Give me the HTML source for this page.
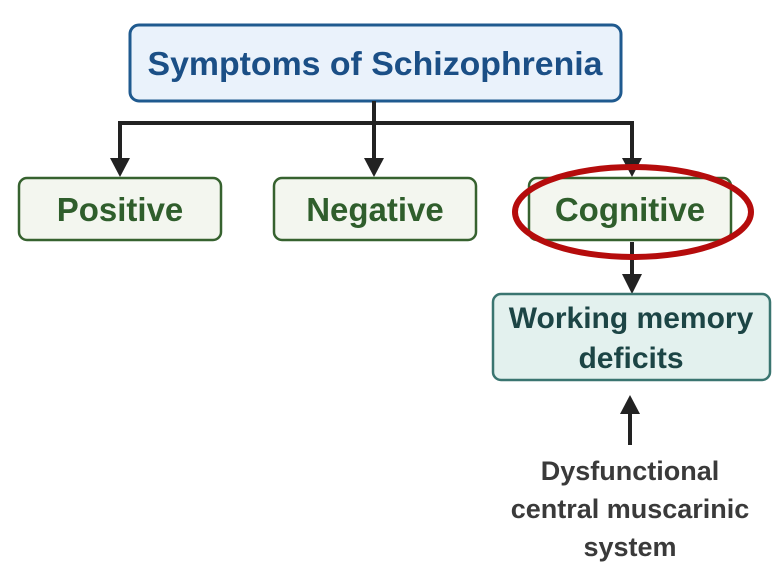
<!DOCTYPE html>
<html><head><meta charset="utf-8"><style>
body{margin:0;width:776px;height:571px;background:#fff;overflow:hidden;font-family:"Liberation Sans",sans-serif;}
</style></head><body>
<svg width="776" height="571" viewBox="0 0 776 571" xmlns="http://www.w3.org/2000/svg" font-family="Liberation Sans, sans-serif" font-weight="bold">
<rect x="130" y="25" width="491" height="76" rx="9" fill="#eaf2fb" stroke="#1f5a8f" stroke-width="3"/>
<text x="375" y="75" text-anchor="middle" font-size="33.5" fill="#1b4f86" textLength="455" lengthAdjust="spacingAndGlyphs">Symptoms of Schizophrenia</text>
<g stroke="#222" stroke-width="4" fill="none">
<line x1="374" y1="101" x2="374" y2="162"/>
<polyline points="120,162 120,123 632,123 632,162"/>
<line x1="632" y1="242" x2="632" y2="278"/>
<line x1="630" y1="445" x2="630" y2="412"/>
</g>
<g fill="#222">
<polygon points="110,158 130,158 120,177"/>
<polygon points="364,158 384,158 374,177"/>
<polygon points="622,158 642,158 632,177"/>
<polygon points="622,274 642,274 632,294"/>
<polygon points="620,414 640,414 630,395"/>
</g>
<g fill="#f3f6ef" stroke="#36622f" stroke-width="2.5">
<rect x="19" y="178" width="202" height="62" rx="8"/>
<rect x="274" y="178" width="202" height="62" rx="8"/>
<rect x="529" y="178" width="202" height="62" rx="8"/>
</g>
<g font-size="33" fill="#2f5e2c" text-anchor="middle">
<text x="120" y="221">Positive</text>
<text x="375" y="221">Negative</text>
<text x="630" y="221">Cognitive</text>
</g>
<ellipse cx="633" cy="212" rx="118" ry="45" fill="none" stroke="#b50c0c" stroke-width="6"/>
<rect x="493" y="294" width="277" height="86" rx="8" fill="#e3f1ee" stroke="#3a7570" stroke-width="2.5"/>
<g font-size="30" fill="#1c4545" text-anchor="middle">
<text x="631" y="328">Working memory</text>
<text x="631" y="368">deficits</text>
</g>
<g font-size="27" fill="#3a3a3a" text-anchor="middle">
<text x="630" y="480">Dysfunctional</text>
<text x="630" y="518">central muscarinic</text>
<text x="630" y="556">system</text>
</g>
</svg>
</body></html>
